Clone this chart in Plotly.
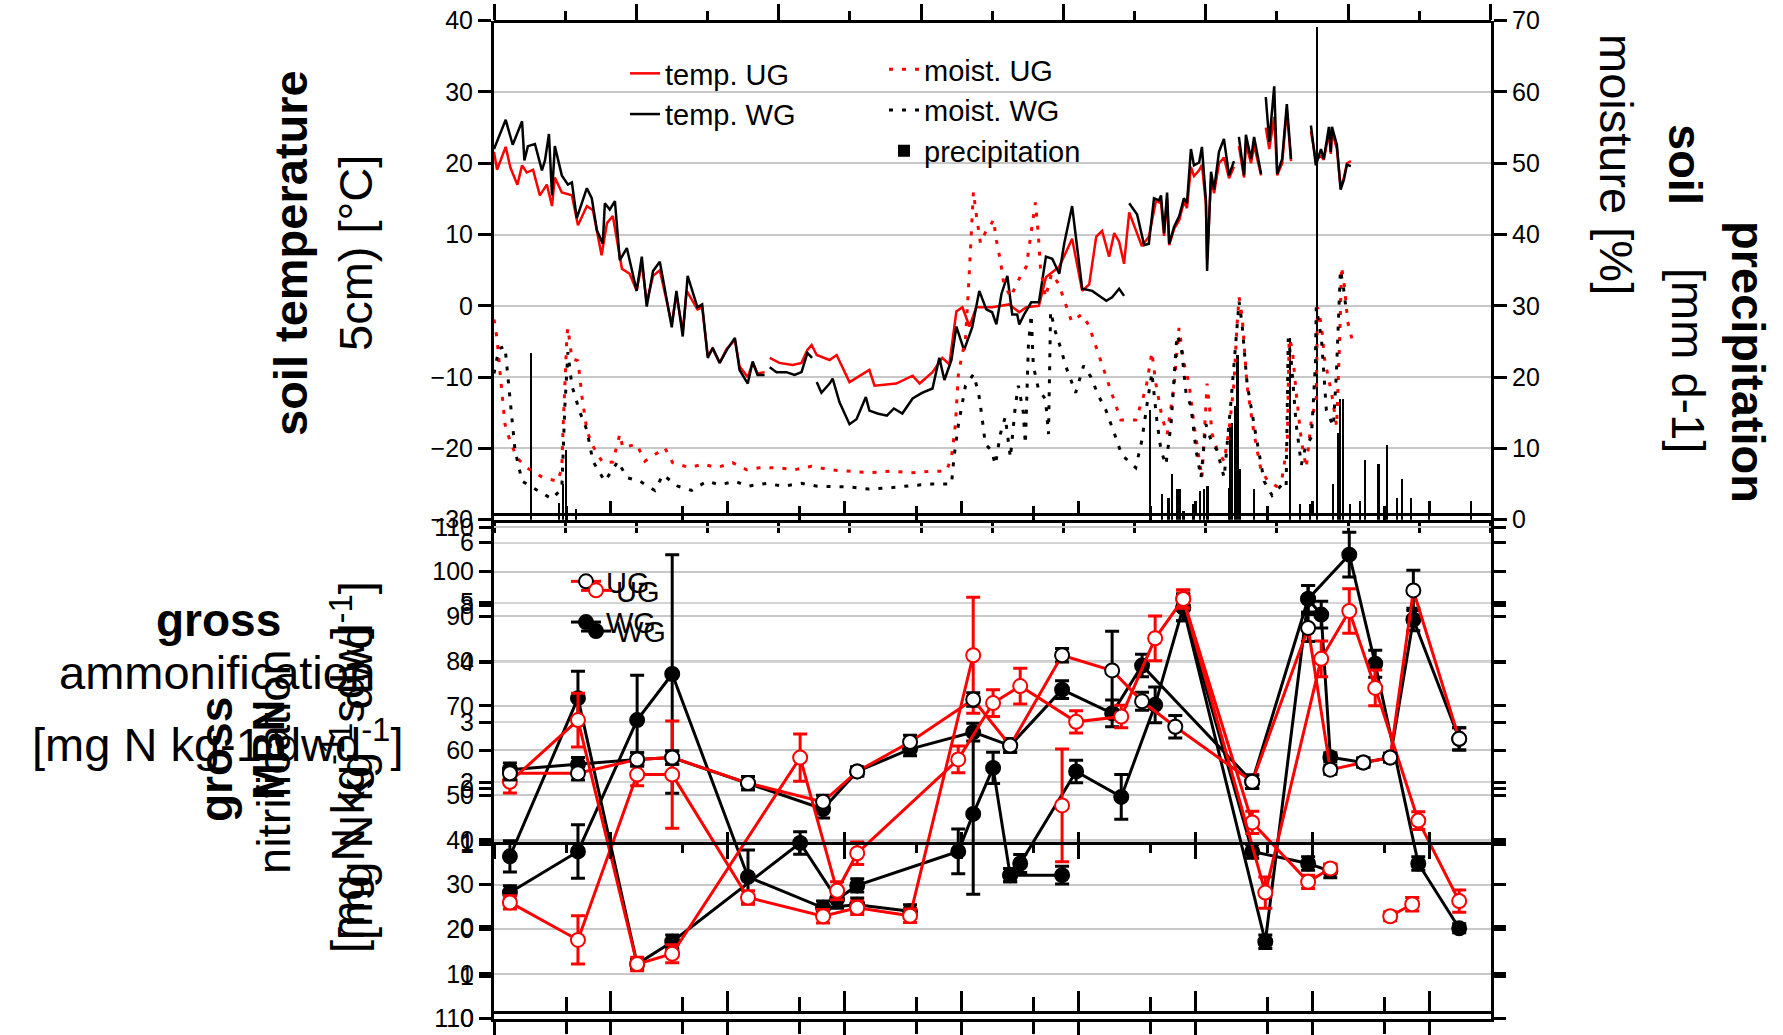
import plotly.graph_objects as go

W, H = 1783, 1035
FONT = "Liberation Sans, Arial, Helvetica, sans-serif"
RED = "#ff0000"
BLACK = "#000000"
GRID = "#c8c8c8"

# ---------------- soil climate, x = day of the study period ----------------
TEMP_WG = [
    (0, 22.0), (5, 26.1), (8, 22.6), (12, 25.9), (13, 20.4), (14.5, 22.4), (17.5, 22.7), (20.5, 19.0),
    (21.8, 20.4), (23.5, 24.1), (24.8, 15.5), (26, 22.4), (29, 18.3), (31.6, 17.0), (33.3, 17.3),
    (35.4, 12.3), (39.7, 16.5), (41.8, 15.1), (44, 10.6), (46.5, 8.7), (47.4, 14.4), (49.5, 13.5),
    (51.7, 14.7), (53.8, 6.4), (56.8, 8.1), (61, 2.1), (63.2, 6.9), (65.3, -0.1), (68, 4.9), (70.9, 6.2),
    (76, -3.0), (78, 2.1), (80.7, -4.3), (82.8, 4.2), (87, -0.2), (89, 0.2), (91.4, -7.3), (93.5, -5.9),
    (96.5, -8.0), (99.5, -6.2), (103, -4.5), (105, -9.0), (108.5, -10.9), (110.6, -7.8), (112.7, -9.7),
    (115.7, -9.7), (None, None), (117.9, -8.6), (120.8, -9.3), (125, -9.3), (128.5, -9.7), (131.5, -9.3),
    (134, -6.6), (136, -7.3), (None, None), (138, -10.7), (140, -12.2), (143.5, -10.9), (144.8, -10.2),
    (147.7, -13.5), (152, -16.6), (155, -15.9), (159, -12.8), (160.5, -14.7), (164, -15.1), (168, -15.4),
    (171, -14.4), (174.6, -15.1), (179, -13.0), (183, -12.2), (187.5, -11.6), (190.4, -7.3), (192.6, -10.4),
    (195.6, -7.6), (197.7, -2.9), (201, -6.2), (204.5, -3.0), (207.5, 2.1), (210.5, -0.5), (213, -0.9),
    (214.8, -2.6), (217, 1.7), (219.5, 4.2), (221.6, -1.2), (223.7, -1.2), (224.6, -2.6), (226.7, -1.2),
    (229.7, 0.5), (233, 0.5), (236, 6.9), (238.7, 6.6), (241.7, 4.5), (243.8, 8.7), (247.2, 14.0),
    (251.5, 2.4), (255.8, 2.1), (261.8, 0.7), (264.3, 1.2), (267.3, 2.4), (269.4, 1.4), (None, None),
    (271.6, 14.4), (275, 12.8), (278, 8.5), (280, 8.7), (282.2, 15.1), (284.4, 14.8), (285.2, 15.5),
    (286.5, 10.2), (287.8, 15.9), (288.7, 8.7), (290.8, 11.1), (293, 12.6), (295, 15.1), (296.3, 14.4),
    (298, 22.0), (299.3, 19.7), (301.5, 20.1), (302.7, 22.3), (304.4, 14.8), (304.9, 4.9), (306.6, 18.8),
    (307.9, 16.3), (310, 21.6), (312.1, 23.4), (314.3, 18.3), (316.4, 20.3), (None, None), (318.5, 23.7),
    (320.7, 18.3), (321.5, 24.0), (323.7, 20.6), (325, 23.7), (328, 18.5), (None, None), (330, 29.3),
    (331.5, 23.0), (333.6, 30.8), (334.9, 18.5), (337, 20.6), (339, 28.3), (340.8, 20.6), (None, None),
    (349.3, 25.3), (351.4, 19.7), (353.6, 22.0), (354.8, 20.6), (357, 25.1), (357.8, 21.6), (358.3, 25.1),
    (360.4, 22.6), (362, 16.3), (363.4, 17.7), (364.7, 19.8), (366.4, 19.6),
]

TEMP_UG = [
    (0, 21.6), (1.3, 19.1), (5, 22.3), (7, 19.4), (10, 17.0), (12, 19.7), (14, 18.7), (16.7, 19.1),
    (19.6, 15.5), (22.6, 17.0), (24.8, 14.0), (26, 18.0), (29, 15.9), (33.3, 15.5), (35.9, 11.3),
    (39.7, 14.0), (42.3, 13.4), (46, 7.1), (48.3, 11.6), (50.8, 12.6), (54.7, 5.2), (58, 4.5), (61, 2.1),
    (63.2, 6.0), (65.3, 0.5), (68, 4.2), (70.9, 5.0), (76, -2.5), (78, 1.5), (80.7, -3.5), (82.4, 2.1),
    (87, -0.5), (89, -0.2), (91.4, -7.0), (93.5, -6.0), (96.5, -8.0), (99.5, -6.0), (103, -4.8),
    (105, -8.5), (108.5, -10.0), (110.6, -8.0), (112.7, -9.5), (115.7, -9.3), (None, None), (117.9, -7.3),
    (122, -8.0), (127.7, -8.3), (131.5, -8.0), (134, -6.2), (135.8, -5.5), (138, -6.9), (143.5, -7.6),
    (146.5, -6.9), (152, -10.7), (160.5, -9.0), (162.7, -11.2), (172, -10.9), (179, -9.8), (182, -10.9),
    (187.5, -9.3), (191.7, -7.3), (194.7, -8.2), (197.7, -0.8), (200.3, -0.2), (203.3, -2.9), (206.2, -0.2),
    (213, -0.2), (220.3, 0.2), (224.6, -0.9), (227.6, -0.2), (233, 0.0), (236, 4.0), (241.7, 5.5),
    (247.2, 9.4), (251.5, 2.1), (254.5, 3.0), (257.5, 9.7), (260, 10.5), (263, 6.9), (265.2, 10.2),
    (267.3, 9.0), (269.4, 5.9), (271.6, 13.1), (274.6, 10.6), (277, 8.4), (280, 9.7), (283.1, 14.8),
    (284.4, 14.5), (285.2, 14.5), (286.5, 9.8), (287.8, 15.0), (288.7, 8.5), (290.8, 10.8), (293, 12.0),
    (295, 14.6), (296.3, 13.7), (298, 19.5), (299.3, 18.2), (301.5, 19.0), (302.7, 19.8), (304.4, 14.3),
    (304.9, 6.5), (306.6, 17.9), (307.9, 15.8), (310, 20.0), (312.1, 20.8), (314.3, 17.9), (316.4, 19.5),
    (None, None), (318.5, 22.4), (320.7, 18.0), (321.5, 22.7), (323.7, 20.0), (325, 22.5), (328, 18.3),
    (None, None), (330, 25.0), (331.5, 22.0), (333.6, 26.5), (334.9, 18.3), (337, 20.0), (339, 27.5),
    (340.8, 20.3), (None, None), (349.3, 24.5), (351.4, 20.5), (353.6, 21.0), (354.8, 20.5), (357, 24.3),
    (357.8, 21.3), (358.3, 24.5), (360.4, 22.0), (362, 16.6), (363.4, 18.0), (364.7, 20.0), (366.4, 20.3),
]

MOIST_UG = [
    (0, 28.1), (1.3, 25.4), (2.6, 20.6), (4.7, 13.4), (6.8, 11.1), (9.8, 8.7), (14, 7.3), (20.9, 5.9),
    (27.3, 5.4), (29, 7.3), (29.5, 12.6), (30.3, 19.7), (31.2, 26.0), (31.6, 26.9), (33.3, 22.6),
    (35.9, 22.3), (37.6, 17.3), (39.7, 12.6), (41.8, 10.6), (46.5, 8.0), (50.8, 8.1), (53.8, 12.0),
    (55.1, 10.1), (61, 10.6), (64.5, 8.2), (70, 9.4), (73, 10.1), (76.4, 8.0), (83.7, 7.3), (89.3, 7.8),
    (95.3, 7.3), (102, 8.0), (108, 7.0), (113.5, 7.3), (120.8, 7.3), (128.5, 7.0), (135.8, 7.5),
    (143.5, 7.0), (152, 6.8), (160, 6.6), (170, 6.8), (179, 6.6), (187, 6.8), (193.4, 6.8), (195.6, 8.7),
    (197.3, 13.4), (198.6, 20.6), (201.6, 25.4), (202.9, 32.6), (203.7, 38.4), (205, 46.0), (206.3, 42.6),
    (208, 38.8), (210.1, 40.3), (212.3, 41.3), (213.6, 42.1), (214.8, 39.2), (216.5, 36.4), (217.8, 33.5),
    (220.8, 31.2), (225, 34.1), (227.6, 35.5), (229.7, 40.3), (231.5, 44.5), (232.8, 39.8), (233.6, 35.5),
    (235.8, 31.2), (238.4, 34.5), (241.4, 33.1), (244.4, 30.2), (247, 27.8), (251.3, 28.8), (254.3, 27.3),
    (258.6, 23.1), (264.1, 17.8), (268, 14.0), (274.4, 14.0), (278.7, 18.3), (281.3, 23.5), (283, 19.1),
    (285.6, 14.4), (287.8, 12.0), (290.8, 18.8), (292.9, 26.9), (295, 22.0), (297.2, 19.1), (299.3, 13.4),
    (301.5, 8.7), (302.7, 5.9), (304.9, 19.1), (307.1, 12.0), (309.2, 9.8), (312.2, 8.2), (314.3, 12.6),
    (316.4, 19.1), (317.7, 27.3), (318.6, 31.2), (319.9, 28.4), (322, 18.8), (325, 12.0), (328, 6.9),
    (330.6, 5.6), (334.5, 4.7), (337, 5.9), (339.2, 10.6), (340, 25.4), (341.3, 24.1), (343, 17.8),
    (345.2, 11.1), (347.3, 7.3), (349.5, 14.0), (351.6, 16.9), (352.1, 29.8), (353.8, 27.3), (355.1, 22.6),
    (358.1, 17.8), (360.3, 13.1), (361.6, 25.4), (362.4, 35.5), (363.7, 32.6), (365, 27.8), (366.8, 25.4),
]

MOIST_WG = [
    (0, 20.5), (2.1, 24.0), (4.7, 24.3), (6.8, 17.0), (9.0, 9.7), (12, 5.4), (18.4, 4.1), (24.8, 2.9),
    (29, 4.4), (30.3, 15.9), (31.6, 23.5), (33.3, 18.8), (36.7, 15.1), (39.7, 12.6), (42.3, 8.2),
    (47.4, 5.4), (53, 8.2), (56.8, 5.9), (62.4, 5.4), (68.8, 4.1), (72.2, 6.3), (78.6, 4.7), (84.5, 4.1),
    (91, 5.4), (96.5, 4.9), (103, 5.4), (108.5, 4.7), (116.6, 5.1), (123.4, 4.7), (131.5, 5.1),
    (138.3, 4.7), (143.5, 4.7), (152, 4.6), (160, 4.3), (170, 4.5), (179, 4.8), (187, 5.0), (195.6, 5.0),
    (196.8, 9.1), (198.6, 13.4), (201.6, 18.8), (205, 20.4), (207.2, 17.8), (208.5, 14.8), (210.1, 10.6),
    (212.7, 9.7), (214.4, 7.7), (216.5, 12.0), (218.6, 14.4), (220.8, 8.7), (222.9, 15.9), (224.2, 18.8),
    (226.3, 15.1), (227.2, 10.6), (228.5, 24.5), (229.7, 28.8), (230.6, 21.6), (232.8, 18.3), (235.8, 16.9),
    (237.1, 12.0), (238, 29.2), (240.1, 26.3), (242.3, 24.1), (244.4, 21.6), (248.7, 17.8), (252.1, 21.6),
    (255.1, 20.1), (258.6, 17.3), (261.6, 15.4), (265.8, 11.6), (268.4, 9.1), (274.4, 7.3), (277, 11.1),
    (279.1, 15.9), (281.3, 20.6), (283.4, 14.0), (285.2, 9.7), (287.3, 7.7), (289.5, 13.4), (292, 25.9),
    (293.8, 24.5), (295.9, 17.8), (298, 15.9), (300.2, 9.7), (302.3, 5.9), (304.4, 13.4), (306.6, 11.1),
    (309.2, 9.7), (312.2, 5.9), (315.2, 16.9), (317.3, 25.4), (318.6, 30.6), (319.9, 27.3), (322, 19.1),
    (325.9, 11.6), (329.3, 5.4), (332.7, 3.4), (336.6, 4.8), (338.7, 4.4), (339.6, 25.4), (340.8, 22.6),
    (343, 13.4), (345.2, 7.7), (346.9, 10.1), (349.5, 11.6), (351.2, 21.6), (351.6, 29.8), (353.8, 25.4),
    (355.9, 15.4), (358.9, 13.1), (360.2, 20.6), (361.9, 35.0), (363.2, 32.6), (364.1, 30.2),
]

PRECIP = [
    (15.7, 23.4), (27.9, 2.4), (29.6, 5.0), (30.8, 9.8), (31.3, 1.5), (35.0, 1.5), (280.6, 15.5),
    (285.6, 3.6), (288.4, 3.1), (289.9, 6.5), (292.0, 4.3), (293.1, 4.3), (294.8, 1.2), (299.1, 2.2),
    (302.0, 4.1), (303.4, 4.3), (305.1, 4.8), (314.1, 4.5), (314.8, 13.1), (315.5, 13.6), (316.9, 16.0),
    (317.9, 23.2), (319.1, 7.2), (324.8, 4.3), (330.5, 1.9), (340.4, 25.6), (344.7, 2.2), (349.0, 2.2),
    (351.9, 69.2), (358.7, 5.0), (360.7, 12.2), (361.8, 17.0), (363.0, 17.0), (366.1, 2.2), (370.1, 2.6),
    (372.5, 8.4), (378.2, 7.9), (381.8, 10.5), (386.1, 3.1), (388.2, 5.7), (392.1, 3.1), (399.6, 2.2),
    (417.7, 2.6),
]

# ---------------- N turnover (lower panels): (day, value, error) ----------------
UG_A = [
    (6.8, 53.0, 2.5), (35.9, 66.8, 6.0), (61.2, 12.2, 1.5), (76.2, 14.5, 2.0), (130.9, 58.4, 5.3),
    (146.7, 28.6, 2.0), (155.3, 37.0, 2.5), (198.5, 58.0, 3.0), (213.4, 70.6, 3.0), (225.0, 74.4, 4.0),
    (248.9, 66.4, 2.5), (268.2, 67.6, 2.5), (282.7, 85.1, 5.0), (294.7, 93.9, 2.0), (329.8, 28.2, 3.5),
    (353.7, 80.5, 4.0), (365.7, 91.2, 5.0), (376.8, 74.0, 4.0), (395.2, 44.3, 2.0), (412.7, 26.3, 2.5),
]
UG_B = [
    (6.8, 26.0, 1.5), (35.9, 17.6, 5.4), (61.2, 54.6, 2.5), (76.2, 54.6, 12.0), (108.6, 27.1, 1.5),
    (140.7, 22.9, 1.5), (155.3, 24.8, 1.5), (177.9, 23.0, 1.5), (204.9, 81.3, 13.0), (None, None, None),
    (242.9, 47.7, 12.6), (None, None, None),
    (294.7, 93.9, 2.0), (324.2, 43.9, 2.5), (348.1, 30.6, 1.5), (357.6, 33.6, 1.0), (None, None, None),
    (383.2, 22.9, 1.0), (392.6, 25.6, 1.5),
]
UG_C = [
    (6.8, 54.9, 1.5), (35.9, 54.9, 1.5), (61.2, 58.0, 1.5), (76.2, 58.4, 1.5), (108.6, 52.7, 1.5),
    (140.7, 48.5, 1.5), (155.3, 55.3, 1.0), (177.9, 61.9, 1.5), (204.9, 71.4, 1.5), (220.7, 61.1, 1.5),
    (242.9, 81.3, 1.5), (264.3, 77.9, 8.8), (277.1, 71.0, 2.0), (291.3, 65.3, 2.5), (324.2, 53.0, 1.5),
    (348.1, 87.4, 3.0), (357.6, 55.7, 1.0), (371.7, 57.3, 1.0), (383.2, 58.4, 1.0), (393.1, 95.8, 4.5),
    (412.7, 62.6, 2.5),
]
WG_A = [
    (6.8, 36.3, 3.5), (35.9, 71.7, 6.0), (61.2, 12.2, 1.0), (76.2, 17.2, 1.5), (130.9, 39.3, 2.5),
    (146.7, 26.7, 2.0), (155.3, 29.8, 1.5), (198.5, 37.4, 5.0), (204.9, 45.8, 18.0), (213.4, 56.1, 3.5),
    (220.7, 32.1, 1.5), (242.9, 32.1, 2.0),
]
WG_B = [
    (6.8, 28.2, 1.5), (35.9, 37.4, 6.0), (61.2, 66.8, 10.0), (76.2, 77.1, 26.7), (108.6, 31.7, 6.0),
    (140.7, 24.8, 1.5), (155.3, 25.5, 1.5), (177.9, 24.0, 1.5), (None, None, None),
    (220.7, 32.1, 1.5), (225.0, 34.7, 2.0), (248.9, 55.3, 2.5), (268.2, 49.6, 5.0), (282.7, 70.2, 4.0),
    (294.7, 92.0, 3.0), (329.8, 17.2, 1.5), (348.1, 93.9, 3.0), (365.7, 103.8, 5.0), (376.8, 79.4, 3.0),
    (395.2, 34.7, 1.5), (412.7, 20.2, 1.0),
]
WG_C = [
    (6.8, 55.7, 1.5), (35.9, 56.9, 1.5), (61.2, 58.0, 1.5), (76.2, 58.4, 1.5), (108.6, 52.7, 1.5),
    (140.7, 46.9, 2.0), (155.3, 55.3, 1.0), (177.9, 60.3, 1.5), (204.9, 64.1, 2.0), (220.7, 61.1, 1.5),
    (242.9, 73.6, 2.0), (264.3, 68.3, 3.0), (277.1, 79.0, 2.5), (324.2, 53.0, 1.5), (348.1, 93.9, 3.0),
    (353.7, 90.4, 3.0), (357.6, 58.5, 1.0), (371.7, 57.3, 1.0), (383.2, 58.4, 1.0), (393.1, 89.3, 2.5),
    (412.7, 62.6, 2.5),
]
WG_E = [(294.7, 92.0, 3.0), (324.2, 37.4, 1.5), (348.1, 34.7, 1.5), (357.6, 33.0, 1.5)]

# tick labels
TEMP_TICKS = [-30, -20, -10, 0, 10, 20, 30, 40]
MOIST_TICKS = [0, 10, 20, 30, 40, 50, 60, 70]
AMMON_TICKS = [0, 10, 20, 30, 40, 50, 60, 70, 80, 90, 100, 110]
NITR_TICKS = [1, 2, 3, 4, 5, 6]
EXTRA_TICK_VALS = [0, 9.5, 20.5, 39.0, 51.4, 92.5]
EXTRA_TICK_TEXT = ["110", "1", "0", "1", "0", "8"]

DAY_RANGE = [0, 426.3]
MONTH = 30.43


def px_x(p):
    return p / W


def px_y(p):
    return 1 - p / H


def cols(rows):
    return [list(c) for c in zip(*rows)]


X_DOM = [px_x(494), px_x(1491)]
TOP_DOM = [px_y(519.7), px_y(20.7)]
MID_DOM = [px_y(1018.6), px_y(519.7)]
AMMON_RANGE = [0, 110 * (1018.6 - 519.7) / (1018.6 - 527.0)]
NITR_RANGE = [-(1018.6 - 902.0) / 59.9, 6 + (542.6 - 519.7) / 59.9]

fig = go.Figure()

# --- top panel ---
d, v = cols(MOIST_UG)
fig.add_trace(go.Scatter(x=d, y=v, mode="lines", name="moist. UG", xaxis="x", yaxis="y3",
                         line=dict(color=RED, width=3, dash="4px,9px"), legend="legend2", legendrank=1))
d, v = cols(MOIST_WG)
fig.add_trace(go.Scatter(x=d, y=v, mode="lines", name="moist. WG", xaxis="x", yaxis="y3",
                         line=dict(color=BLACK, width=3, dash="4px,9px"), legend="legend2", legendrank=2))
d, v = cols(PRECIP)
fig.add_trace(go.Bar(x=d, y=v, name="precipitation", xaxis="x", yaxis="y3", width=0.9,
                     marker=dict(color=BLACK, line=dict(width=0)), legend="legend2", legendrank=3))
d, v = cols(TEMP_UG)
fig.add_trace(go.Scatter(x=d, y=v, mode="lines", name="temp. UG", xaxis="x", yaxis="y",
                         line=dict(color=RED, width=2.5), legend="legend", legendrank=1))
d, v = cols(TEMP_WG)
fig.add_trace(go.Scatter(x=d, y=v, mode="lines", name="temp. WG", xaxis="x", yaxis="y",
                         line=dict(color=BLACK, width=2.5), legend="legend", legendrank=2))


# --- lower panels ---
def turnover(rows, name, line_color, fill, edge, rank, legend="legend3", show=False):
    d, v, e = cols(rows)
    return go.Scatter(
        x=d, y=v, mode="lines+markers", name=name, xaxis="x2", yaxis="y2",
        line=dict(color=line_color, width=3),
        marker=dict(symbol="circle", size=14, color=fill, line=dict(color=edge, width=2)),
        error_y=dict(type="data", array=e, visible=True, color=edge if fill == "white" else BLACK,
                     thickness=3, width=7),
        legend=legend, legendrank=rank, showlegend=show,
    )


fig.add_trace(turnover(WG_B, "WG", BLACK, BLACK, BLACK, 2))
fig.add_trace(turnover(WG_E, "WG", BLACK, BLACK, BLACK, 2))
fig.add_trace(turnover(WG_A, "WG", BLACK, BLACK, BLACK, 2, legend="legend4", show=True))
fig.add_trace(turnover(WG_C, "WG", BLACK, BLACK, BLACK, 2, legend="legend3", show=True))
fig.add_trace(turnover(UG_B, "UG", RED, "white", RED, 1))
fig.add_trace(turnover(UG_A, "UG", RED, "white", RED, 1, legend="legend4", show=True))
fig.add_trace(turnover(UG_C, "UG", RED, "white", BLACK, 1, legend="legend3", show=True))

# empty carriers so that the extra frame axes get drawn
for xa, ya in [("x4", "y"), ("x6", "y"), ("x3", "y2"), ("x5", "y2"), ("x7", "y2"), ("x2", "y4"), ("x2", "y5")]:
    fig.add_trace(go.Scatter(x=[], y=[], xaxis=xa, yaxis=ya, showlegend=False, hoverinfo="skip"))

tickfont = dict(family=FONT, size=25, color=BLACK)
ax_common = dict(showline=True, linecolor=BLACK, linewidth=3, zeroline=False, tickcolor=BLACK,
                 tickwidth=2.5, tickfont=tickfont)
hidden_x = dict(range=DAY_RANGE, showticklabels=False, showgrid=False, zeroline=False,
                showline=True, linecolor=BLACK, linewidth=3, tickcolor=BLACK, tickwidth=2.5)
legend_font = dict(family=FONT, size=29, color=BLACK)


def legend_box(x, y):
    return dict(x=px_x(x), y=px_y(y), xanchor="left", yanchor="top", bgcolor="rgba(0,0,0,0)",
                font=legend_font, itemwidth=30, tracegroupgap=0, traceorder="normal")


layout = dict(
    width=W, height=H, margin=dict(l=0, r=0, t=0, b=0, pad=0, autoexpand=False),
    paper_bgcolor="white", plot_bgcolor="white", font=dict(family=FONT, color=BLACK),
    showlegend=True, bargap=0,
    xaxis=dict(domain=X_DOM, anchor="y", ticks="outside", ticklen=10, tick0=0, dtick=MONTH,
               minor=dict(ticks="inside", ticklen=14, tick0=30.8, dtick=50, tickcolor=BLACK, tickwidth=2.5),
               **hidden_x),
    xaxis4=dict(overlaying="x", anchor="free", position=TOP_DOM[1], side="top", ticks="outside",
                ticklen=16, tick0=0, dtick=2 * MONTH,
                minor=dict(ticks="outside", ticklen=9, tick0=0, dtick=MONTH, tickcolor=BLACK, tickwidth=2.5),
                **hidden_x),
    xaxis6=dict(overlaying="x", anchor="free", position=px_y(514), side="bottom", ticks="inside",
                ticklen=12, tick0=0, dtick=50, **hidden_x),
    xaxis2=dict(domain=X_DOM, anchor="y2", ticks="outside", ticklen=16, tick0=0, dtick=50,
                minor=dict(ticks="outside", ticklen=12, tick0=30.8, dtick=50, tickcolor=BLACK, tickwidth=2.5),
                **hidden_x),
    xaxis3=dict(overlaying="x2", anchor="free", position=px_y(1012), side="bottom", ticks="inside",
                ticklen=20, tick0=0, dtick=50,
                minor=dict(ticks="inside", ticklen=14, tick0=30.8, dtick=50, tickcolor=BLACK, tickwidth=2.5),
                **hidden_x),
    xaxis5=dict(overlaying="x2", anchor="free", position=px_y(843), side="bottom", ticks="outside",
                ticklen=14, tick0=0, dtick=50,
                minor=dict(ticks="outside", ticklen=8, tick0=30.8, dtick=50, tickcolor=BLACK, tickwidth=2.5),
                **hidden_x),
    xaxis7=dict(overlaying="x2", anchor="free", position=px_y(843), side="bottom", ticks="inside",
                ticklen=10, tick0=0, dtick=50, **hidden_x),
    yaxis=dict(domain=TOP_DOM, anchor="x", range=[-30, 40], tickvals=TEMP_TICKS, ticks="outside",
               ticklen=13, showgrid=True, gridcolor=GRID, gridwidth=1.5, **ax_common),
    yaxis3=dict(overlaying="y", anchor="x", side="right", range=[0, 70], tickvals=MOIST_TICKS,
                ticks="outside", ticklen=13, showgrid=False, **ax_common),
    yaxis2=dict(domain=MID_DOM, anchor="x2", range=AMMON_RANGE, tickvals=AMMON_TICKS, ticks="outside",
                ticklen=12, mirror="ticks", showgrid=True, gridcolor=GRID, gridwidth=1.5, **ax_common),
    yaxis4=dict(overlaying="y2", anchor="x2", side="left", range=NITR_RANGE, tickvals=NITR_TICKS,
                ticks="outside", ticklen=12, mirror="ticks", showgrid=True, gridcolor="#d4d4d4",
                gridwidth=1.5, **ax_common),
    yaxis5=dict(overlaying="y2", anchor="x2", side="left", range=AMMON_RANGE, tickvals=EXTRA_TICK_VALS,
                ticktext=EXTRA_TICK_TEXT, ticks="outside", ticklen=12, mirror="ticks", showgrid=False,
                **ax_common),
    legend=legend_box(625, 48),
    legend2=legend_box(884, 44),
    legend3=legend_box(566, 556),
    legend4=legend_box(576, 565),
)

TITLES = [
    ("<b>soil temperature</b>", 290, 253, 47, -90),
    ("5cm) [°C]", 355, 253, 47, -90),
    ("moisture [%]", 1616, 164, 47, 90),
    ("<b>soil</b>", 1685, 164, 47, 90),
    ("[mm d-1]", 1689, 360, 47, 90),
    ("<b>precipitation</b>", 1748, 362, 47, 90),
    ("<b>gross</b>", 218, 620, 46, 0),
    ("ammonification", 217, 672, 47, 0),
    ("[mg N kg-1 dwd<sup>-1</sup>]", 217, 741, 47, 0),
    ("<b>gross</b>", 216, 760, 46, -90),
    ("<b>MBN</b>", 268, 750, 44, -90),
    ("nitrification", 273, 762, 47, -90),
    ("[mg N kg<sup>-1</sup> dwd<sup>-1</sup>]", 352, 761, 47, -90),
    ("[mg N kg<sup>-1</sup> sdw]", 344, 790, 47, -90),
]
layout["annotations"] = [
    dict(text=t, x=px_x(x), y=px_y(y), xref="paper", yref="paper", xanchor="center", yanchor="middle",
         showarrow=False, textangle=a, font=dict(family=FONT, size=s, color=BLACK))
    for t, x, y, s, a in TITLES
]

fig.update_layout(**layout)
fig.write_html("out.html")
